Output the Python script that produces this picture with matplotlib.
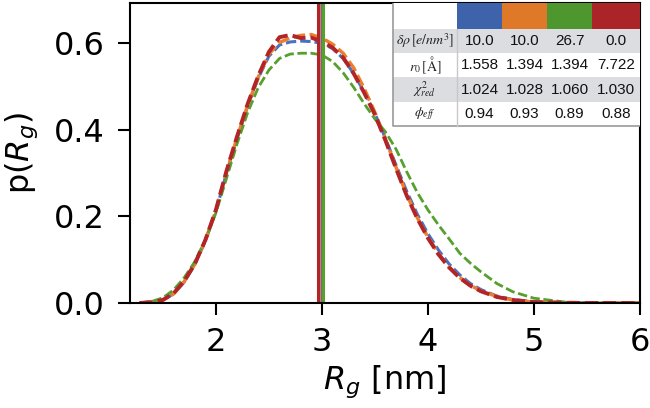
import matplotlib
matplotlib.use("Agg")
import matplotlib.pyplot as plt
from matplotlib.patches import Rectangle
from matplotlib.lines import Line2D

# ---------------- data ----------------
rg = [1.28, 1.4, 1.5, 1.6, 1.7, 1.8, 1.9, 2.0, 2.1, 2.2, 2.3, 2.4, 2.5, 2.6, 2.7,
      2.8, 2.9, 3.0, 3.1, 3.2, 3.3, 3.4, 3.5, 3.6, 3.7, 3.8, 3.9, 4.0, 4.1, 4.2,
      4.3, 4.4, 4.5, 4.65, 4.8, 5.0, 5.3, 5.6, 6.0]

p_blue = [0, 0.002, 0.007, 0.021, 0.048, 0.088, 0.143, 0.212, 0.300, 0.380, 0.455,
          0.520, 0.570, 0.596, 0.603, 0.605, 0.604, 0.600, 0.588, 0.565, 0.530,
          0.487, 0.438, 0.380, 0.318, 0.258, 0.205, 0.160, 0.122, 0.090, 0.065,
          0.045, 0.031, 0.016, 0.008, 0.003, 0.0007, 0.0001, 0]
p_orange = [0, 0.002, 0.007, 0.021, 0.049, 0.089, 0.144, 0.213, 0.302, 0.382, 0.457,
            0.522, 0.575, 0.602, 0.612, 0.618, 0.620, 0.612, 0.598, 0.577, 0.543,
            0.495, 0.440, 0.378, 0.313, 0.250, 0.197, 0.152, 0.114, 0.083, 0.059,
            0.041, 0.028, 0.015, 0.007, 0.002, 0.0005, 0, 0]
p_green = [0, 0.004, 0.012, 0.030, 0.058, 0.095, 0.145, 0.208, 0.288, 0.368, 0.440,
           0.498, 0.538, 0.565, 0.575, 0.577, 0.577, 0.573, 0.558, 0.532, 0.498,
           0.460, 0.425, 0.395, 0.355, 0.303, 0.255, 0.215, 0.180, 0.148, 0.115,
           0.092, 0.072, 0.045, 0.026, 0.011, 0.002, 0.0003, 0]
p_red = [0, 0.002, 0.007, 0.022, 0.050, 0.090, 0.145, 0.215, 0.305, 0.385, 0.460,
         0.525, 0.580, 0.614, 0.619, 0.612, 0.613, 0.604, 0.590, 0.567, 0.530,
         0.485, 0.435, 0.375, 0.310, 0.248, 0.195, 0.150, 0.112, 0.082, 0.058,
         0.040, 0.027, 0.014, 0.007, 0.002, 0.0005, 0, 0]

mean_rg = {"blue": 2.99, "orange": 2.975, "green": 3.012, "red": 2.96}

row_labels = [r"$\delta\rho\,[e/nm^3]$", r"$r_0\,[\mathrm{\AA}]$",
              r"$\chi^2_{red}$", r"$\phi_{eff}$"]
delta_rho = ["10.0", "10.0", "26.7", "0.0"]
r0 = ["1.558", "1.394", "1.394", "7.722"]
chi2 = ["1.024", "1.028", "1.060", "1.030"]
phi_eff = ["0.94", "0.93", "0.89", "0.88"]

colors = {"blue": "#3f63aa", "orange": "#e0782a", "green": "#4e962e", "red": "#ab2528"}
curve_colors = {"blue": "#4472c4", "orange": "#ed7d31", "green": "#55a02e", "red": "#b22425"}

# ---------------- figure ----------------
fig = plt.figure(figsize=(6.5, 4.08), dpi=100)
ax = fig.add_axes([130/650, 1 - 303/408, 510/650, 300/408])

series = [("blue", p_blue, 2.2), ("orange", p_orange, 2.5),
          ("green", p_green, 2.0), ("red", p_red, 2.8)]
for name, ys, lw in series:
    ax.plot(rg, ys, ls="--", color=curve_colors[name], lw=lw, dashes=(3.4, 1.3))

for name in ["blue", "orange", "green", "red"]:
    ax.axvline(mean_rg[name], color=curve_colors[name], lw=2.2)

FS = 23
ax.set_xlim(1.19, 6.0)
ax.set_ylim(0, 0.693)
ax.set_xticks([2, 3, 4, 5, 6])
ax.set_yticks([0.0, 0.2, 0.4, 0.6])
ax.tick_params(labelsize=FS, length=8.5, width=1.5)
ax.tick_params(axis="x", pad=8.5)
ax.tick_params(axis="y", pad=9.5)
for s in ax.spines.values():
    s.set_linewidth(1.5)
ax.set_xlabel(r"$R_g$ [nm]", fontsize=FS, labelpad=4)
ax.set_ylabel(r"p($R_g$)", fontsize=FS, labelpad=10)

# ---------------- table (drawn in pixel-derived axes fraction) ----------------
def fx(px):
    return (px - 130) / 510.0

def fy(py):
    return (303 - py) / 300.0

tr = ax.transAxes
col_edges = [393, 457, 502, 547, 592, 640]
row_edges = [3, 29, 53, 77, 102, 126]
gray = "#dcdde1"

ax.add_patch(Rectangle((fx(393), fy(126)), fx(640) - fx(393), fy(3) - fy(126),
                       transform=tr, facecolor="white", edgecolor="none", zorder=5))
for i, name in enumerate(["blue", "orange", "green", "red"]):
    x0, x1 = col_edges[i + 1], col_edges[i + 2]
    ax.add_patch(Rectangle((fx(x0), fy(row_edges[1])), fx(x1) - fx(x0),
                           fy(row_edges[0]) - fy(row_edges[1]), transform=tr,
                           facecolor=colors[name], edgecolor="none", zorder=6))
for r in [1, 3]:
    ax.add_patch(Rectangle((fx(393), fy(row_edges[r + 1])), fx(640) - fx(393),
                           fy(row_edges[r]) - fy(row_edges[r + 1]), transform=tr,
                           facecolor=gray, edgecolor="none", zorder=6))
ax.add_line(Line2D([fx(393), fx(393), fx(640)], [fy(3), fy(126), fy(126)],
                   transform=tr, color="#9a9a9a", lw=1.2, zorder=7))
ax.add_line(Line2D([fx(457), fx(457)], [fy(29), fy(126)],
                   transform=tr, color="#c8c8c8", lw=1.0, zorder=7))

rows = [delta_rho, r0, chi2, phi_eff]
for r, (lab, vals) in enumerate(zip(row_labels, rows)):
    yc = fy((row_edges[r + 1] + row_edges[r + 2]) / 2)
    ax.text(fx(425), yc, lab, transform=tr, ha="center", va="center",
            fontsize=10, math_fontfamily="stix", zorder=8, color="#222222")
    for c, v in enumerate(vals):
        xc = fx((col_edges[c + 1] + col_edges[c + 2]) / 2)
        ax.text(xc, yc, v, transform=tr, ha="center", va="center",
                fontsize=11, family="Liberation Sans", zorder=8, color="#111111")

fig.savefig("out.png", dpi=100)
